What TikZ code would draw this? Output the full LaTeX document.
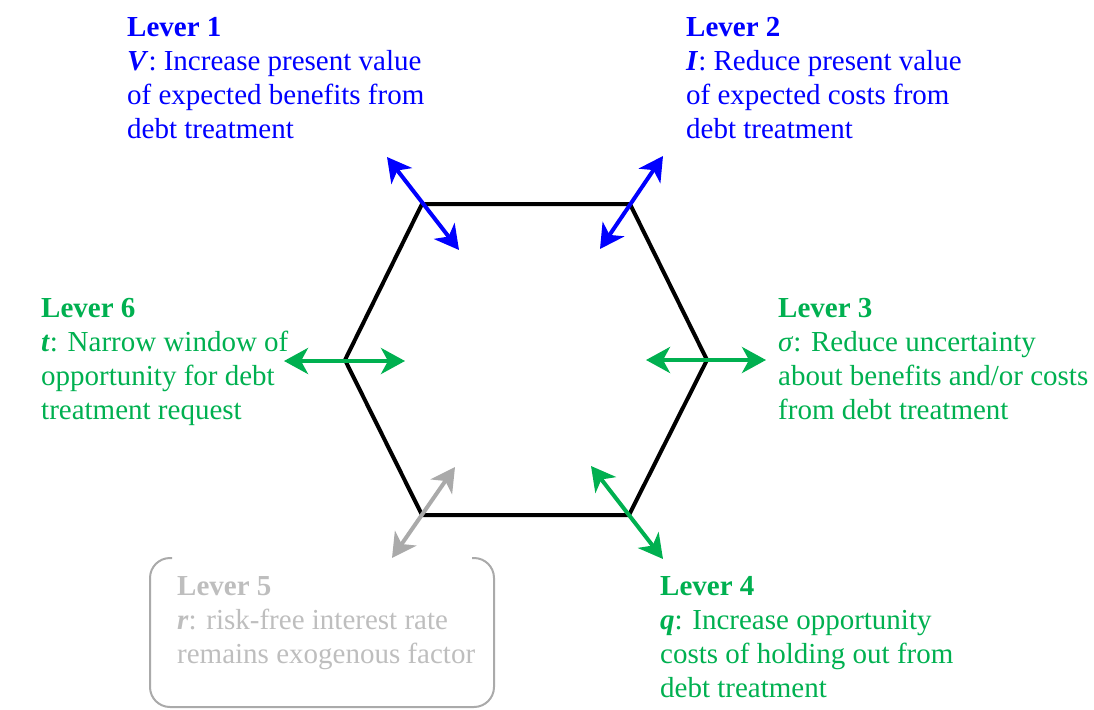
\documentclass[tikz,border=0pt]{standalone}
\usepackage{fontspec}
\setmainfont{Liberation Serif}
\usetikzlibrary{arrows.meta}

\definecolor{leverblue}{RGB}{0,0,255}
\definecolor{levergreen}{RGB}{0,176,80}
\definecolor{levergray}{RGB}{170,170,170}
\definecolor{fadedtext}{RGB}{190,190,190}

\tikzset{
  lever/.style={anchor=north west, inner sep=0pt, align=left, font=\fontsize{29}{34}\selectfont},
  push/.style={line width=4pt, {Stealth[length=24pt,width=26pt,inset=7pt]}-{Stealth[length=24pt,width=26pt,inset=7pt]}},
}

\begin{document}
\begin{tikzpicture}[x=1pt, y=-1pt]
\useasboundingbox (0,0) rectangle (1094,709);

% hexagon
\coordinate (tl) at (422,204);
\coordinate (tr) at (630,204);
\coordinate (rr) at (707,360);
\coordinate (br) at (629,515);
\coordinate (bl) at (422,515);
\coordinate (ll) at (345,360);
\draw [line width=4pt, line join=miter] (tl) -- (tr) -- (rr) -- (br) -- (bl) -- (ll) -- cycle;

% levers
\draw [push, leverblue] (387,157) -- (459,250);
\draw [push, leverblue] (663,156) -- (600,249);
\draw [push, levergreen] (284,361) -- (405,361);
\draw [push, levergreen] (646,360) -- (766,360);
\draw [push, levergreen] (591,466) -- (663,559);
\draw [push, levergray] (455,467) -- (392,558);

\node [lever, text=leverblue] (lever1) at (127,17) {\textbf{Lever 1}\\\textbf{\textit{V}}: Increase present value\\of expected benefits from\\debt treatment};
\node [lever, text=leverblue] (lever2) at (686,17) {\textbf{Lever 2}\\\textbf{\textit{I}}: Reduce present value\\of expected costs from\\debt treatment};
\node [lever, text=levergreen] (lever6) at (41,298) {\textbf{Lever 6}\\\textbf{\textit{t}}: Narrow window of\\opportunity for debt\\treatment request};
\node [lever, text=levergreen] (lever3) at (778,298) {\textbf{Lever 3}\\\textit{σ}: Reduce uncertainty\\about benefits and/or costs\\from debt treatment};
\node [lever, text=levergreen] (lever4) at (660,576) {\textbf{Lever 4}\\\textbf{\textit{q}}: Increase opportunity\\costs of holding out from\\debt treatment};
\node [lever, text=fadedtext] (lever5) at (177,576) {\textbf{Lever 5}\\\textbf{\textit{r}}: risk-free interest rate\\remains exogenous factor};

% open frame round lever 5
\draw [levergray, line width=2pt, rounded corners=20pt] (172,558) -| (150,707) -| (494,558) -- (472,558);
\end{tikzpicture}
\end{document}
